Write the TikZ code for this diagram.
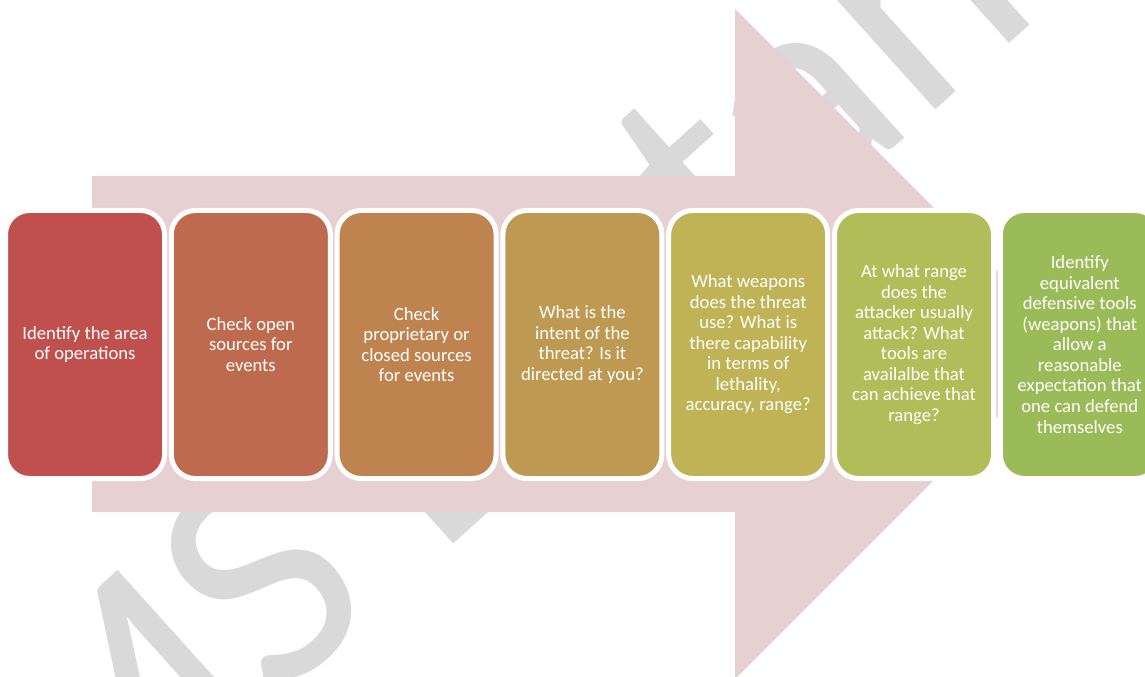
\documentclass[tikz,border=0pt]{standalone}
\usepackage{fontspec}
\setmainfont{Carlito}
\usetikzlibrary{positioning}
\definecolor{arrowpink}{RGB}{231,208,209}
\definecolor{markgray}{RGB}{217,217,217}
\definecolor{stepA}{RGB}{192,80,77}
\definecolor{stepB}{RGB}{190,106,78}
\definecolor{stepC}{RGB}{191,131,80}
\definecolor{stepD}{RGB}{189,153,82}
\definecolor{stepE}{RGB}{191,179,86}
\definecolor{stepF}{RGB}{177,189,88}
\definecolor{stepG}{RGB}{155,187,89}
\begin{document}
\begin{tikzpicture}[x=0.75pt,y=-0.75pt,node distance=5.1pt,every node/.style={outer sep=0pt},
  stepbox/.style={draw=white,line width=3.75pt,rounded corners=18pt,minimum width=119.25pt,minimum height=201pt,
    inner sep=2pt,align=center,text=white,font=\fontsize{14}{15.4}\selectfont}]
  \useasboundingbox (0,0) rectangle (1145,677);
  \clip (0,0) rectangle (1145,677);

  % watermark
  \node[anchor=base west,rotate=42,text=markgray,font=\fontsize{240}{240}\selectfont] (mark) at (68,891) {MS Distance};

  % big arrow behind the steps
  \fill[arrowpink] (92,176) -- (735,176) -- (735,9) -- (1070,344) -- (735,679) -- (735,512) -- (92,512) -- cycle;

  \node[stepbox,fill=stepA] (area) at (85,344.5) {Identify the area\\of operations};
  \node[stepbox,fill=stepB,right=of area] (open) {Check open\\sources for\\events};
  \node[stepbox,fill=stepC,right=of open] (closed) {Check\\proprietary or\\closed sources\\for events};
  \node[stepbox,fill=stepD,right=of closed] (intent) {What is the\\intent of the\\threat? Is it\\directed at you?};
  \node[stepbox,fill=stepE,right=of intent] (weapons) {What weapons\\does the threat\\use? What is\\there capability\\in terms of\\lethality,\\accuracy, range?};
  \node[stepbox,fill=stepF,right=of weapons] (range) {At what range\\does the\\attacker usually\\attack? What\\tools are\\availalbe that\\can achieve that\\range?};
  \node[stepbox,fill=stepG,right=of range] (defend) {Identify\\equivalent\\defensive tools\\(weapons) that\\allow a\\reasonable\\expectation that\\one can defend\\themselves};
\end{tikzpicture}
\end{document}
